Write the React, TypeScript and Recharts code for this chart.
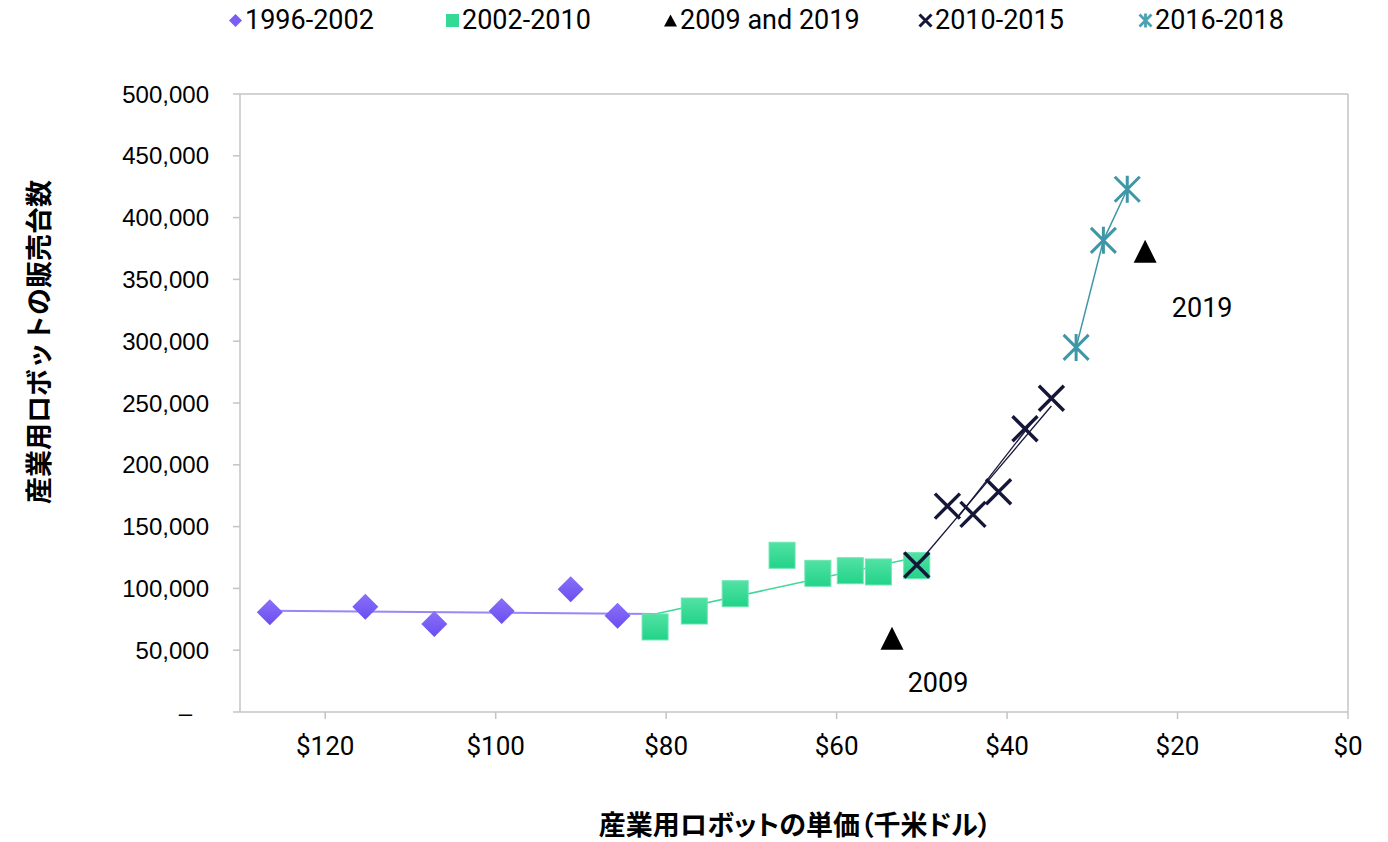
import React from "react";
import { ScatterChart, Scatter, XAxis, YAxis, ReferenceLine } from "recharts";

// axes
const xTicks = [0, 20, 40, 60, 80, 100, 120];
const yTicks = [0, 50000, 100000, 150000, 200000, 250000, 300000, 350000, 400000, 450000, 500000];

// 1996-2002 (price in $k, units sold)
const pricesA = [126.5, 115.3, 107.2, 99.3, 91.2, 85.7];
const unitsA = [80700, 85200, 71200, 81700, 99300, 77900];
const trendPricesA = [126.5, 81.3];
const trendUnitsA = [81900, 79300];

// 2002-2010
const pricesB = [81.3, 76.7, 71.9, 66.4, 62.2, 58.4, 55.1, 50.6];
const unitsB = [68800, 81700, 95700, 126800, 112200, 114300, 113300, 118400];
const trendPricesB = [81.3, 50.6];
const trendUnitsB = [79300, 125200];

// 2009 and 2019
const pricesC = [53.5, 23.8];
const unitsC = [59600, 372700];
const labelsC = ["2009", "2019"];

// 2010-2015
const pricesD = [50.6, 47.0, 44.0, 41.0, 37.9, 34.8];
const unitsD = [118900, 166600, 159900, 178200, 229200, 253800];
const trendPricesD = [50.6, 34.8];
const trendUnitsD = [118900, 247600];
const trend2PricesD = [45.7, 36.5];
const trend2UnitsD = [158000, 239500];

// 2016-2018
const pricesE = [31.9, 28.7, 25.9];
const unitsE = [295000, 381600, 422900];

const legendNames = ["1996-2002", "2002-2010", "2009 and 2019", "2010-2015", "2016-2018"];

const yTitle = "産業用ロボットの販売台数";
const xTitle = "産業用ロボットの単価（千米ドル）";

const PURPLE = "#7a5df5";
const GREEN = "#33d995";
const NAVY = "#16163a";
const TEAL = "#3e97a7";
const AXIS = "#c4c4c4";

const pts = (xs: number[], ys: number[], labels?: string[]) =>
  xs.map((x, i) => ({ x, y: ys[i], label: labels ? labels[i] : "" }));

const Diamond = (p: any) => {
  const { cx, cy } = p;
  const r = 13;
  return (
    <polygon
      points={`${cx},${cy - r} ${cx + r},${cy} ${cx},${cy + r} ${cx - r},${cy}`}
      fill="url(#gPurple)"
    />
  );
};

const Square = (p: any) => {
  const { cx, cy } = p;
  const r = 13;
  return (
    <rect x={cx - r} y={cy - r} width={2 * r} height={2 * r} fill="url(#gGreen)" stroke="#6ce5b2" strokeWidth={1} />
  );
};

const labelOffsets = [
  [46, 45],
  [57, 57],
];

const Triangle = (p: any) => {
  const { cx, cy, payload, index } = p;
  const r = 11.5;
  const off = labelOffsets[index] || [50, 50];
  return (
    <g>
      <polygon points={`${cx},${cy - r} ${cx + r},${cy + r} ${cx - r},${cy + r}`} fill="#000" />
      <text
        x={cx + off[0]}
        y={cy + off[1]}
        textAnchor="middle"
        dominantBaseline="central"
        fontFamily="Roboto"
        fontSize={27}
        fill="#000"
      >
        {payload.label}
      </text>
    </g>
  );
};

const Cross = (p: any) => {
  const { cx, cy } = p;
  const r = 12.5;
  return (
    <path
      d={`M${cx - r},${cy - r}L${cx + r},${cy + r}M${cx + r},${cy - r}L${cx - r},${cy + r}`}
      stroke={NAVY}
      strokeWidth={3.4}
      fill="none"
    />
  );
};

const Star = (p: any) => {
  const { cx, cy } = p;
  const r = 12.5;
  return (
    <path
      d={`M${cx - r},${cy - r}L${cx + r},${cy + r}M${cx + r},${cy - r}L${cx - r},${cy + r}M${cx},${cy - r - 1}L${cx},${cy + r + 1}`}
      stroke={TEAL}
      strokeWidth={3}
      fill="none"
    />
  );
};

const NoDot = () => <g />;

const YTick = (p: any) => {
  const { x, y, payload } = p;
  const v = payload.value as number;
  return (
    <text
      x={v === 0 ? x - 17 : x}
      y={y}
      dy="0.355em"
      textAnchor="end"
      fontFamily="'Liberation Sans', Arial"
      fontSize={24}
      fill="#000"
    >
      {v === 0 ? "–" : v.toLocaleString("en-US")}
    </text>
  );
};

const legendX = [229, 446, 664, 919, 1139];

function LegendIcon({ i }: { i: number }) {
  return (
    <svg width={15} height={15} viewBox="0 0 15 15" style={{ display: "block" }}>
      {i === 0 && <polygon points="7.5,1 14,7.5 7.5,14 1,7.5" fill={PURPLE} />}
      {i === 1 && <rect x={1} y={1} width={13} height={13} fill={GREEN} />}
      {i === 2 && <polygon points="7.5,1.5 14,13.5 1,13.5" fill="#000" />}
      {i === 3 && <path d="M1.5,1.5L13.5,13.5M13.5,1.5L1.5,13.5" stroke={NAVY} strokeWidth={3} />}
      {i === 4 && (
        <path d="M1.5,1.5L13.5,13.5M13.5,1.5L1.5,13.5M7.5,0.5L7.5,14.5" stroke="#4aa3b3" strokeWidth={2.8} />
      )}
    </svg>
  );
}

export default function App() {
  return (
    <div style={{ position: "absolute", left: 0, top: 0, width: 1388, height: 842, background: "#fff" }}>
      <ScatterChart width={1388} height={842} margin={{ top: 94, right: 40, bottom: 0, left: 0 }}>
        <defs>
          <linearGradient id="gPurple" x1="0" y1="0" x2="0" y2="1">
            <stop offset="0%" stopColor="#8a70f8" />
            <stop offset="100%" stopColor="#6a4ef0" />
          </linearGradient>
          <linearGradient id="gGreen" x1="0" y1="0" x2="0" y2="1">
            <stop offset="0%" stopColor="#52e2a4" />
            <stop offset="100%" stopColor="#22d388" />
          </linearGradient>
        </defs>
        <XAxis
          type="number"
          dataKey="x"
          domain={[0, 130]}
          reversed
          ticks={xTicks}
          interval={0}
          height={130}
          tickFormatter={(v: number) => `$${v}`}
          tick={{ fill: "#000", fontSize: 26, fontFamily: "Roboto" }}
          tickSize={7}
          tickMargin={18}
          axisLine={{ stroke: AXIS, strokeWidth: 1.5 }}
          tickLine={{ stroke: AXIS, strokeWidth: 1.5 }}
        />
        <YAxis
          type="number"
          dataKey="y"
          domain={[0, 500000]}
          ticks={yTicks}
          interval={0}
          width={240}
          tick={<YTick />}
          tickSize={7}
          tickMargin={24}
          axisLine={{ stroke: AXIS, strokeWidth: 1.5 }}
          tickLine={{ stroke: AXIS, strokeWidth: 1.5 }}
        />
        <ReferenceLine y={500000} stroke={AXIS} strokeWidth={1.5} />
        <ReferenceLine x={0} stroke={AXIS} strokeWidth={1.5} />

        <Scatter
          data={pts(trendPricesA, trendUnitsA)}
          line={{ stroke: "#9a86f7", strokeWidth: 2 }}
          shape={NoDot}
          isAnimationActive={false}
        />
        <Scatter data={pts(pricesA, unitsA)} shape={Diamond} isAnimationActive={false} />

        <Scatter
          data={pts(trendPricesB, trendUnitsB)}
          line={{ stroke: "#3ed998", strokeWidth: 1.5 }}
          shape={NoDot}
          isAnimationActive={false}
        />
        <Scatter data={pts(pricesB, unitsB)} shape={Square} isAnimationActive={false} />

        <Scatter
          data={pts(trendPricesD, trendUnitsD)}
          line={{ stroke: NAVY, strokeWidth: 1.3 }}
          shape={NoDot}
          isAnimationActive={false}
        />
        <Scatter
          data={pts(trend2PricesD, trend2UnitsD)}
          line={{ stroke: NAVY, strokeWidth: 1.3 }}
          shape={NoDot}
          isAnimationActive={false}
        />
        <Scatter data={pts(pricesD, unitsD)} shape={Cross} isAnimationActive={false} />

        <Scatter
          data={pts(pricesE, unitsE)}
          line={{ stroke: TEAL, strokeWidth: 1.5 }}
          shape={Star}
          isAnimationActive={false}
        />

        <Scatter data={pts(pricesC, unitsC, labelsC)} shape={Triangle} isAnimationActive={false} />
      </ScatterChart>

      {legendNames.map((name, i) => (
        <div
          key={name}
          style={{
            position: "absolute",
            left: legendX[i] - 1,
            top: 4,
            height: 32,
            display: "flex",
            alignItems: "center",
            gap: 2,
            fontFamily: "Roboto",
            fontSize: 27,
            color: "#000",
            whiteSpace: "nowrap",
          }}
        >
          <LegendIcon i={i} />
          <span>{name}</span>
        </div>
      ))}

      <div
        style={{
          position: "absolute",
          left: 37,
          top: 342,
          transform: "translate(-50%, -50%) rotate(-90deg)",
          fontFamily: "'Noto Sans CJK JP'",
          fontWeight: 700,
          fontSize: 27,
          whiteSpace: "nowrap",
          color: "#000",
          lineHeight: 1,
        }}
      >
        {yTitle}
      </div>
      <div
        style={{
          position: "absolute",
          left: 795,
          top: 823,
          transform: "translate(-50%, -50%)",
          fontFamily: "'Noto Sans CJK JP'",
          fontWeight: 700,
          fontSize: 27,
          fontFeatureSettings: '"palt"',
          whiteSpace: "nowrap",
          color: "#000",
          lineHeight: 1,
        }}
      >
        {xTitle}
      </div>
    </div>
  );
}
